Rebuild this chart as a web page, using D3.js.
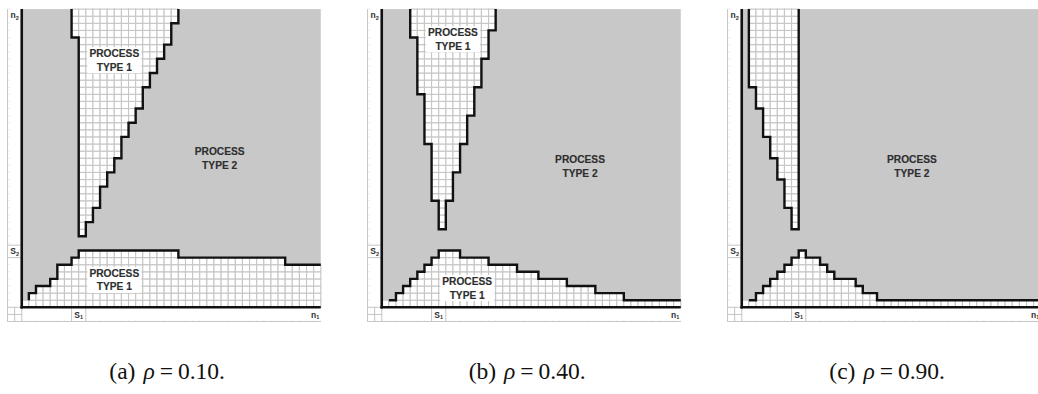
<!DOCTYPE html>
<html>
<head>
<meta charset="utf-8">
<script src="https://cdn.jsdelivr.net/npm/d3@7"></script>
<style>
  html, body { margin: 0; padding: 0; background: #ffffff; }
  svg { display: block; }
</style>
</head>
<body>
<svg id="chart" width="1038" height="394"></svg>
<script>
// ---------------- DATA ----------------
const NCOLS = 42;            // n1 cells along the x axis
const NROWS = 42;            // n2 cells along the y axis
const panelLetters = ["a", "b", "c"];
const rhoValues = ["0.10", "0.40", "0.90"];
const xTickLabels = [{ base: "S", sub: "1" }, { base: "n", sub: "1" }];
const yTickLabels = [{ base: "S", sub: "2" }, { base: "n", sub: "2" }];
const regionLabels = ["PROCESS", "TYPE 1", "TYPE 2"];

// height (in cells) of the lower PROCESS TYPE 1 region, per column
const bottomHeightsA = [1,2,3,3,4,6,6,7,8,8,8,8,8,8,8,8,8,8,8,8,8,8,7,7,7,7,7,7,7,7,7,7,7,7,7,7,7,6,6,6,6,6];
const bottomHeightsB = [1,1,2,3,4,5,6,7,8,8,8,7,7,7,7,6,6,6,6,5,5,5,4,4,4,4,3,3,3,3,2,2,2,2,1,1,1,1,1,1,1,1];
const bottomHeightsC = [1,1,2,3,4,5,6,7,8,7,7,6,5,4,4,4,3,2,2,1,1,1,1,1,1,1,1,1,1,1,1,1,1,1,1,1,1,1,1,1,1,1];

// upper PROCESS TYPE 1 region: first row, then per row (bottom -> top) left and right column bounds
const upperStartA = 10;
const upperLeftA  = [8,8,8,8,8,8,8,8,8,8,8,8,8,8,8,8,8,8,8,8,8,8,8,8,8,8,8,8,7,7,7,7];
const upperRightA = [9,9,10,10,11,11,11,12,12,13,13,14,14,14,15,15,16,16,17,17,17,18,18,19,19,20,20,21,21,21,22,22];
const upperStartB = 11;
const upperLeftB  = [8,8,8,8,7,7,7,7,7,7,7,7,6,6,6,6,6,6,6,5,5,5,5,5,5,5,5,4,4,4,4];
const upperRightB = [9,9,9,9,10,10,10,10,11,11,11,11,12,12,12,12,13,13,13,13,14,14,14,14,15,15,15,15,16,16,16];
const upperStartC = 11;
const upperLeftC  = [7,7,7,6,6,6,6,5,5,5,4,4,4,3,3,3,3,2,2,2,1,1,1,1,1,1,1,1,1,1,1];
const upperRightC = [8,8,8,8,8,8,8,8,8,8,8,8,8,8,8,8,8,8,8,8,8,8,8,8,8,8,8,8,8,8,8];

const panels = [
  { bottom: bottomHeightsA, start: upperStartA, left: upperLeftA, right: upperRightA },
  { bottom: bottomHeightsB, start: upperStartB, left: upperLeftB, right: upperRightB },
  { bottom: bottomHeightsC, start: upperStartC, left: upperLeftC, right: upperRightC }
];

// ---------------- LAYOUT / STYLE ----------------
const CW = 7.12, CH = 7.1, STRIP = 2;
const panelLeft = [7.5, 367.5, 727.5];
const plotBottom = 307.3;
const GRAY = "#c8c8c9";
const GRID = "#c6c6c6";
const INK = "#2e2e2e";

// label placements (cell coordinates)
const labelPos = [
  { up: [13, 34.8], t2: [27.8, 21.0], low: [13, 3.85], showUp: true, showLow: true },
  { up: [10, 37.75], t2: [27.85, 19.9], low: [12, 2.7], showUp: true, showLow: true },
  { up: null, t2: [23.9, 19.9], low: null, showUp: false, showLow: false }
];

const svg = d3.select("#chart");

panels.forEach((p, k) => {
  const x = d3.scaleLinear().domain([-STRIP, NCOLS])
    .range([panelLeft[k], panelLeft[k] + (NCOLS + STRIP) * CW]);
  const y = d3.scaleLinear().domain([-STRIP, NROWS])
    .range([plotBottom + STRIP * CH, plotBottom - NROWS * CH]);
  const g = svg.append("g").attr("class", "panel-" + panelLetters[k]);

  // cell types
  const cells = [];
  for (let c = 0; c < NCOLS; c++) {
    for (let r = 0; r < NROWS; r++) {
      const i = r - p.start;
      const up = i >= 0 && c >= p.left[i] && c < p.right[i];
      const low = r < p.bottom[c];
      cells.push({ c, r, type: (up || low) ? 1 : 2 });
    }
  }

  // strips (labels area)
  g.append("rect")
    .attr("x", x(-STRIP)).attr("y", y(NROWS))
    .attr("width", x(0) - x(-STRIP)).attr("height", y(-STRIP) - y(NROWS))
    .attr("fill", "#fff");
  const stripRows = d3.range(0, NROWS + 1);
  g.selectAll("line.sgh").data(stripRows).join("line")
    .attr("x1", x(-STRIP)).attr("x2", x(-STRIP) + 3)
    .attr("y1", d => y(d)).attr("y2", d => y(d))
    .attr("stroke", "#e4e4e4").attr("stroke-width", 0.6);
  const stripCols = d3.range(0, NCOLS + 1);
  g.selectAll("line.sgv").data(stripCols).join("line")
    .attr("y1", y(-STRIP) - 2).attr("y2", y(-STRIP))
    .attr("x1", d => x(d)).attr("x2", d => x(d))
    .attr("stroke", "#e4e4e4").attr("stroke-width", 0.6);
  const cornerCells = [[-2, -2], [-1, -2], [-2, -1], [-1, -1]];
  g.selectAll("rect.corner").data(cornerCells).join("rect")
    .attr("x", d => x(d[0])).attr("y", d => y(d[1] + 1))
    .attr("width", CW).attr("height", CH)
    .attr("fill", "#fff").attr("stroke", GRID).attr("stroke-width", 1);
  g.append("line").attr("x1", x(-STRIP)).attr("x2", x(-STRIP))
    .attr("y1", y(NROWS)).attr("y2", y(-STRIP))
    .attr("stroke", GRID).attr("stroke-width", 1);
  g.append("line").attr("x1", x(-STRIP)).attr("x2", x(NCOLS))
    .attr("y1", y(-STRIP)).attr("y2", y(-STRIP))
    .attr("stroke", GRID).attr("stroke-width", 1);
  g.append("rect").attr("x", x(-STRIP)).attr("y", y(8.75))
    .attr("width", x(0) - x(-STRIP)).attr("height", y(7) - y(8.75))
    .attr("fill", "#fff").attr("stroke", GRID).attr("stroke-width", 1);
  g.append("rect").attr("x", x(7)).attr("y", y(0))
    .attr("width", x(9) - x(7)).attr("height", y(-STRIP) - y(0))
    .attr("fill", "#fff").attr("stroke", GRID).attr("stroke-width", 1);

  // plot: gray background = PROCESS TYPE 2
  g.append("rect")
    .attr("x", x(0)).attr("y", y(NROWS))
    .attr("width", x(NCOLS) - x(0)).attr("height", y(0) - y(NROWS))
    .attr("fill", GRAY);

  // white grid cells = PROCESS TYPE 1
  g.selectAll("rect.cell").data(cells.filter(d => d.type === 1)).join("rect")
    .attr("class", "cell")
    .attr("x", d => x(d.c)).attr("y", d => y(d.r + 1))
    .attr("width", CW).attr("height", CH)
    .attr("fill", "#fff").attr("stroke", GRID).attr("stroke-width", 1.1);

  const line = d3.line().x(d => x(d[0])).y(d => y(d[1]));

  // lower region boundary
  const lowPts = [[1, p.bottom[0]]];
  for (let c = 1; c < NCOLS; c++) {
    lowPts.push([c, p.bottom[c]]);
    lowPts.push([c + 1, p.bottom[c]]);
  }
  g.append("path").attr("d", line(lowPts))
    .attr("fill", "none").attr("stroke", "#111").attr("stroke-width", 2.4)
    .attr("stroke-linejoin", "miter");

  // upper region boundary
  const n = p.left.length;
  const upPts = [];
  for (let i = n - 1; i >= 0; i--) {
    upPts.push([p.left[i], p.start + i + 1]);
    upPts.push([p.left[i], p.start + i]);
  }
  for (let i = 0; i < n; i++) {
    upPts.push([p.right[i], p.start + i]);
    upPts.push([p.right[i], p.start + i + 1]);
  }
  g.append("path").attr("d", line(upPts))
    .attr("fill", "none").attr("stroke", "#111").attr("stroke-width", 2.4)
    .attr("stroke-linejoin", "miter");

  // axes (thick)
  g.append("line").attr("x1", x(0)).attr("x2", x(0))
    .attr("y1", y(NROWS)).attr("y2", y(0) + 1.3)
    .attr("stroke", "#111").attr("stroke-width", 2.6);
  g.append("line").attr("x1", x(0) - 1.3).attr("x2", x(NCOLS))
    .attr("y1", y(0)).attr("y2", y(0))
    .attr("stroke", "#111").attr("stroke-width", 2.6);

  // region labels
  const lp = labelPos[k];
  function regionLabel(pos, second, boxed) {
    const cx = x(pos[0]), cy = y(pos[1]);
    if (boxed) {
      g.append("rect").attr("x", cx - 27).attr("y", cy - 13)
        .attr("width", 54).attr("height", 26).attr("fill", "#fff");
    }
    const t = g.append("text").attr("text-anchor", "middle")
      .attr("font-family", "'Liberation Sans', Arial, sans-serif")
      .attr("font-weight", "bold").attr("font-size", 10.2).attr("fill", INK)
      .attr("stroke", INK).attr("stroke-width", 0.15);
    t.append("tspan").attr("x", cx).attr("y", cy - 2.8).text(regionLabels[0]);
    t.append("tspan").attr("x", cx).attr("y", cy + 10.5).text(second);
  }
  if (lp.showUp) regionLabel(lp.up, regionLabels[1], true);
  regionLabel(lp.t2, regionLabels[2], false);
  if (lp.showLow) regionLabel(lp.low, regionLabels[1], true);

  // axis labels
  function axisLabel(px, py, lab) {
    const t = g.append("text").attr("x", px).attr("y", py)
      .attr("text-anchor", "middle")
      .attr("font-family", "'Liberation Sans', Arial, sans-serif")
      .attr("font-weight", "bold").attr("fill", INK);
    t.append("tspan").attr("font-size", 8.5).text(lab.base);
    t.append("tspan").attr("font-size", 5.5).attr("dy", 1.8).text(lab.sub);
  }
  axisLabel(x(-1), y(40.7), yTickLabels[1]);
  axisLabel(x(-1), y(7.9) + 3.2, yTickLabels[0]);
  axisLabel(x(8), y(-1) + 3.2, xTickLabels[0]);
  axisLabel(x(41.2), y(-1) + 3.2, xTickLabels[1]);

  // caption
  const cap = svg.append("text")
    .attr("x", (x(-STRIP) + x(NCOLS)) / 2 + 3).attr("y", 379)
    .attr("text-anchor", "middle")
    .attr("font-family", "'Liberation Serif', 'Times New Roman', serif")
    .attr("font-size", 23.5).attr("fill", "#111");
  cap.append("tspan").text("(" + panelLetters[k] + ")");
  cap.append("tspan").attr("dx", 8).attr("font-style", "italic").text("\u03c1");
  cap.append("tspan").attr("dx", 5).text("=");
  cap.append("tspan").attr("dx", 5).text(rhoValues[k] + ".");
});
</script>
</body>
</html>
